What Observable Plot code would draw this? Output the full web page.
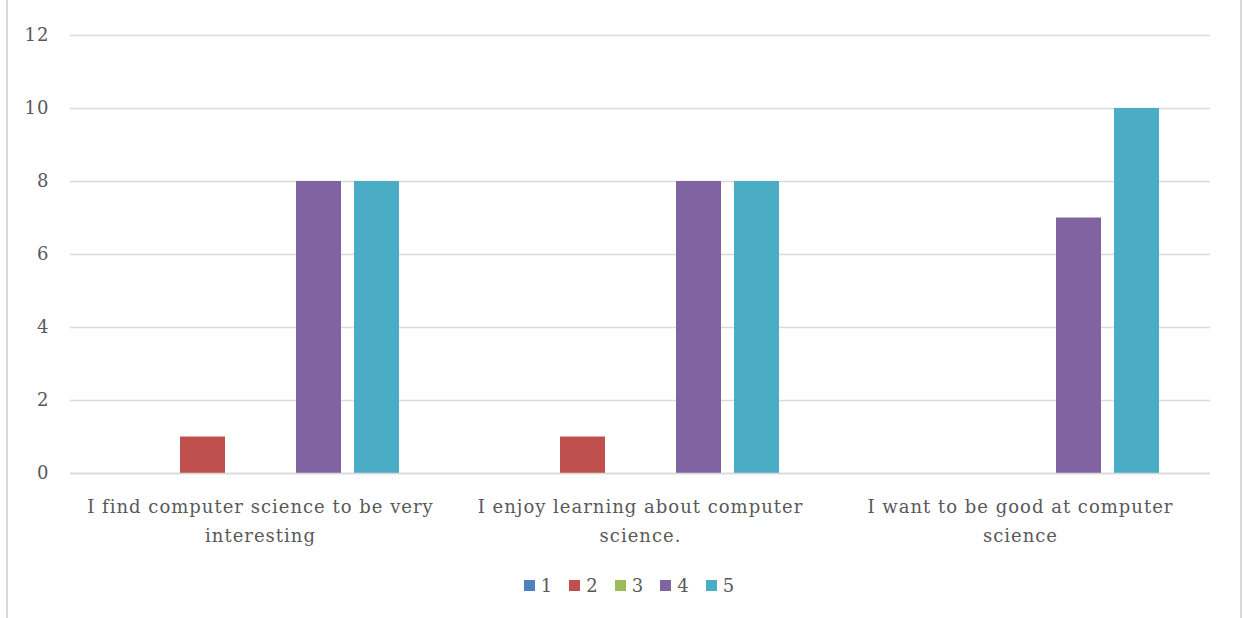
<!DOCTYPE html>
<html>
<head>
<meta charset="utf-8">
<script src="https://cdn.jsdelivr.net/npm/d3@7"></script>
<script src="https://cdn.jsdelivr.net/npm/@observablehq/plot@0.6"></script>
<style>
  html, body { margin: 0; padding: 0; background: #fff; }
  #frame {
    position: absolute; left: 6px; top: -2px; width: 1232px; height: 622px;
    border-left: 2px solid #d9d9d9; border-right: 2px solid #d9d9d9;
    pointer-events: none;
  }
  #chart { position: absolute; left: 0; top: 0; width: 1243px; }
  #chart svg text { letter-spacing: 1px; }
  #legend { position: absolute; left: 8px; top: 575px; width: 1243px; display: flex; justify-content: center; }
  .lg-swatches { margin: 0 !important; min-height: 0 !important; }
  .lg-swatch { margin-right: 16px !important; font-family: "DejaVu Serif", serif; font-size: 18px; letter-spacing: 1px; color: #595959; }
  .lg-swatch:last-child { margin-right: 0 !important; }
  .lg-swatch svg { margin-right: 6px !important; }
</style>
</head>
<body>
<div id="chart"></div>
<div id="legend"></div>
<div id="frame"></div>
<script>
// Survey statements (x facets) and Likert responses 1–5 (bars within each statement)
const categories = [
  "I find computer science to be very interesting",
  "I enjoy learning about computer science.",
  "I want to be good at computer science"
];
const categoryLabels = [
  "I find computer science to be very\ninteresting",
  "I enjoy learning about computer\nscience.",
  "I want to be good at computer\nscience"
];
const seriesNames = ["1", "2", "3", "4", "5"];

// Number of responses per statement, one array per rating
const rating1 = [0, 0, 0];
const rating2 = [1, 1, 0];
const rating3 = [0, 0, 0];
const rating4 = [8, 8, 7];
const rating5 = [8, 8, 10];

const yTicks = [0, 2, 4, 6, 8, 10, 12];
const palette = ["#4F81BD", "#C0504D", "#9BBB59", "#8064A2", "#4BACC6"];

const ratingSeries = [rating1, rating2, rating3, rating4, rating5];
const rows = [];
categories.forEach((c, ci) => {
  seriesNames.forEach((s, si) => {
    rows.push({category: c, series: s, value: ratingSeries[si][ci]});
  });
});

const textColor = "#595959";
const font = "DejaVu Serif, serif";

const chart = Plot.plot({
  width: 1243,
  height: 560,
  marginLeft: 70,
  marginRight: 33,
  marginTop: 35,
  marginBottom: 87,
  style: {fontFamily: font, fontSize: "18px", color: textColor, background: "transparent"},
  fx: {domain: categories, padding: 0, axis: null},
  x: {domain: seriesNames, paddingInner: 0.23, paddingOuter: 0.863, axis: null},
  y: {domain: [0, 12], axis: null},
  color: {domain: seriesNames, range: palette},
  marks: [
    Plot.gridY(yTicks, {stroke: "#d9d9d9", strokeOpacity: 1, strokeWidth: 1.3}),
    Plot.barY(rows, {fx: "category", x: "series", y: "value", fill: "series"}),
    Plot.ruleY([0], {stroke: "#d9d9d9", strokeWidth: 1.5}),
    Plot.axisY(yTicks, {tickSize: 0, tickPadding: 21, fontSize: 18, fill: textColor, label: null}),
    Plot.text(categories, {
      fx: d => d,
      text: (d, i) => categoryLabels[i],
      frameAnchor: "bottom",
      lineAnchor: "top",
      dy: 18,
      lineHeight: 1.65,
      fontSize: 18,
      fill: textColor
    })
  ]
});
document.getElementById("chart").appendChild(chart);

const legend = Plot.legend({
  color: {type: "categorical", domain: seriesNames, range: palette},
  swatchSize: 11,
  className: "lg"
});
document.getElementById("legend").appendChild(legend);
</script>
</body>
</html>
